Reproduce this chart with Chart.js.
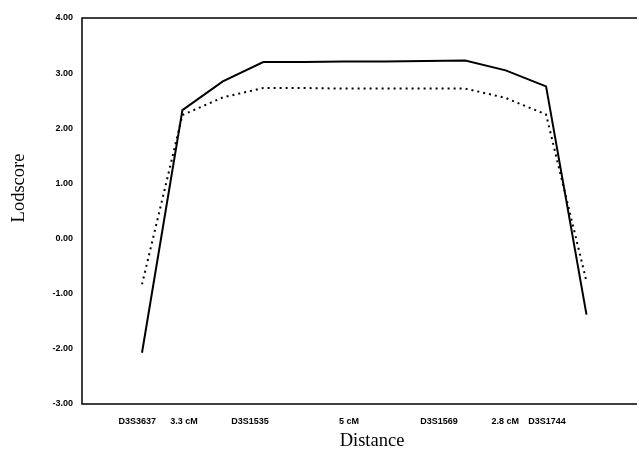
<!DOCTYPE html>
<html>
<head>
<meta charset="utf-8">
<script src="https://cdn.jsdelivr.net/npm/chart.js@4/dist/chart.umd.min.js"></script>
<style>
html,body{margin:0;padding:0;background:#fff;}
#wrap{width:639px;height:451px;}
</style>
</head>
<body>
<div id="wrap"><canvas id="c" width="639" height="451"></canvas></div>
<script>
// Data (x = equally spaced map positions, index units)
const pointX = [0,1,2,3,4,5,6,7,8,9,10,11];
const lodSolid = [-2.07,2.33,2.85,3.20,3.20,3.21,3.21,3.22,3.23,3.05,2.76,-1.38];
const lodDotted = [-0.83,2.24,2.56,2.73,2.73,2.72,2.72,2.72,2.72,2.55,2.25,-0.78];
const xTickLabels = ["D3S3637","3.3 cM","D3S1535","5 cM","D3S1569","2.8 cM","D3S1744"];
const xTickValues = [-0.12,1.04,2.67,5.12,7.35,8.99,10.02];
const yTicks = [-3,-2,-1,0,1,2,3,4];
const xTitle = 'Distance';
const yTitle = 'Lodscore';

const framePlugin = {
  id:'frame',
  afterDraw(chart){
    const {ctx, chartArea:a} = chart;
    ctx.save();
    ctx.strokeStyle='#000';
    ctx.lineWidth=1.5;
    ctx.beginPath();
    ctx.moveTo(a.right, a.top); ctx.lineTo(a.left, a.top);
    ctx.lineTo(a.left, a.bottom); ctx.lineTo(a.right, a.bottom);
    ctx.stroke();
    // axis titles
    ctx.fillStyle='#000';
    ctx.font='18.5px "Liberation Serif"';
    ctx.textAlign='center';
    ctx.textBaseline='middle';
    ctx.fillText(xTitle, a.left + 290, a.bottom + 37);
    ctx.translate(19, a.top + 170);
    ctx.rotate(-Math.PI/2);
    ctx.fillText(yTitle, 0, 0);
    ctx.restore();
  }
};

new Chart(document.getElementById('c'), {
  type:'line',
  data:{
    datasets:[
      {data: pointX.map((x,i)=>({x, y: lodSolid[i]})), borderColor:'#000', borderWidth:2, pointRadius:0, tension:0, fill:false},
      {data: pointX.map((x,i)=>({x, y: lodDotted[i]})), borderColor:'#000', borderWidth:2, borderDash:[2,4], pointRadius:0, tension:0, fill:false}
    ]
  },
  options:{
    responsive:false,
    animation:false,
    layout:{padding:{top:18,right:2,bottom:0,left:0}},
    plugins:{legend:{display:false}, tooltip:{enabled:false}},
    scales:{
      x:{
        type:'linear',
        min:-1.485, max:12.25,
        grid:{display:false},
        border:{display:false},
        afterBuildTicks(s){ s.ticks = xTickValues.map(v=>({value:v})); },
        afterFit(s){ s.height = 47; },
        ticks:{
          autoSkip:false, maxRotation:0, padding:4,
          color:'#000',
          font:{family:'Liberation Sans', size:9, weight:'bold'},
          callback(v, i){ return xTickLabels[i]; }
        },
        title:{display:false}
      },
      y:{
        min:-3, max:4,
        grid:{display:false},
        border:{display:false},
        afterBuildTicks(s){ s.ticks = yTicks.map(v=>({value:v})); },
        afterFit(s){ s.width = 82; },
        ticks:{
          padding:1, color:'#000',
          font:{family:'Liberation Sans', size:9, weight:'bold'},
          callback(v){ return Number(v).toFixed(2); }
        },
        title:{display:false}
      }
    }
  },
  plugins:[framePlugin]
});
</script>
</body>
</html>
